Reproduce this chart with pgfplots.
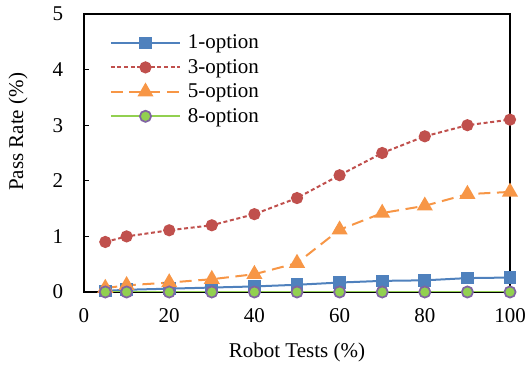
\documentclass[border=0pt]{standalone}
\usepackage{pgfplots}
\pgfplotsset{compat=1.18}
\usepackage{fontspec}
\setmainfont{Liberation Serif}
\definecolor{cblue}{HTML}{4F81BD}
\definecolor{cred}{HTML}{C0504D}
\definecolor{corange}{HTML}{F79646}
\definecolor{cgreen}{HTML}{92D050}
\definecolor{cpurple}{HTML}{8064A2}
\begin{document}
\begin{tikzpicture}
\useasboundingbox (-63pt,-58.5pt) rectangle (333pt,219pt);
\begin{axis}[
  at={(0pt,0pt)}, anchor=south west,
  scale only axis,
  width=319.5pt, height=208.5pt,
  xmin=0, xmax=100, ymin=0, ymax=5,
  xtick={0,20,40,60,80,100},
  ytick={0,1,2,3,4,5},
  /pgf/number format/assume math mode=true,
  tick label style={font=\fontsize{15.75}{18}\selectfont},
  xticklabel style={anchor=base, yshift=-23.25pt},
  yticklabel style={anchor=east, inner sep=0pt, xshift=-15.5pt},
  label style={font=\fontsize{15.75}{18}\selectfont},
  xlabel={Robot Tests (\%)},
  ylabel={Pass Rate (\%)},
  xlabel style={at={(axis description cs:0.5,-0.237)}, anchor=base},
  ylabel style={at={(axis description cs:-0.155,0.576)}, anchor=center},
  ytick pos=left,
  xtick pos=bottom,
  tick align=inside,
  major tick length=4pt,
  major x tick style={draw=none},
  axis line style={black, line width=0.8pt},
  major y tick style={black, line width=0.8pt},
  legend style={draw=none, fill=none, at={(axis description cs:0.06,0.935)}, anchor=north west,
    font=\fontsize{15.75}{18}\selectfont, row sep=2.4pt, inner sep=0pt,
    /tikz/every odd column/.append style={column sep=3pt}},
  legend cell align=left,
  legend image code/.code={
    \draw[mark repeat=2,mark phase=2] plot coordinates {(0pt,0pt) (26pt,0pt) (52pt,0pt)};
  },
]
\addplot[cblue, line width=1.5pt, mark=square*, mark size=4pt, mark options={solid}] coordinates {
(5,0.02)(10,0.04)(20,0.06)(30,0.08)(40,0.10)(50,0.13)(60,0.17)(70,0.20)(80,0.21)(90,0.25)(100,0.26)};
\addlegendentry{1-option}
\addplot[cred, line width=1.5pt, dash pattern=on 3pt off 2pt, mark=*, mark size=3.8pt, mark options={solid}] coordinates {
(5,0.9)(10,1.0)(20,1.11)(30,1.2)(40,1.4)(50,1.69)(60,2.1)(70,2.5)(80,2.8)(90,3.0)(100,3.1)};
\addlegendentry{3-option}
\addplot[corange, line width=1.5pt, dash pattern=on 9pt off 5pt, mark=triangle*, mark size=5.5pt, mark options={solid}] coordinates {
(5,0.07)(10,0.12)(20,0.17)(30,0.23)(40,0.32)(50,0.52)(60,1.12)(70,1.42)(80,1.55)(90,1.76)(100,1.8)};
\addlegendentry{5-option}
\addplot[cgreen, line width=1.5pt, mark=*, mark size=4.2pt, mark options={solid, fill=cgreen, draw=cpurple, line width=1.3pt}] coordinates {
(5,0)(10,0)(20,0)(30,0)(40,0)(50,0)(60,0)(70,0)(80,0)(90,0)(100,0)};
\addlegendentry{8-option}
\end{axis}
\end{tikzpicture}
\end{document}
